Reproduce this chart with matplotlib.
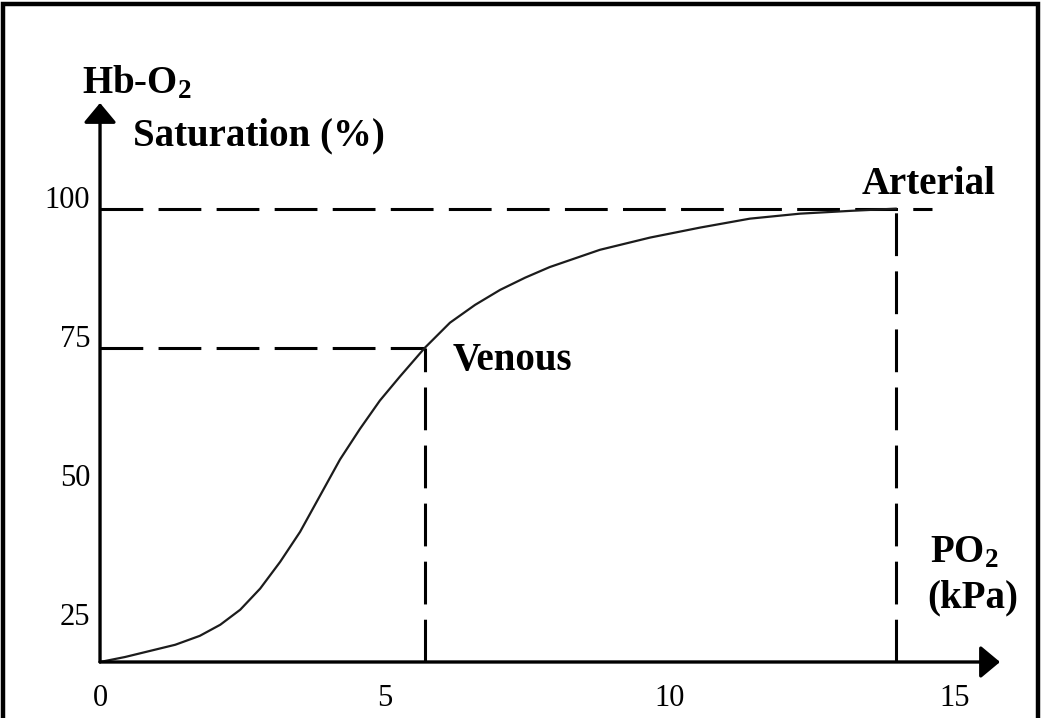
import matplotlib
matplotlib.use("Agg")
import matplotlib.pyplot as plt
from matplotlib.patches import Rectangle

# Hb-O2 dissociation curve
po2 = [0.00, 0.44, 0.88, 1.32, 1.75, 2.11, 2.46, 2.81, 3.16, 3.51, 3.86,
       4.21, 4.56, 4.91, 5.26, 5.70, 6.14, 6.58, 7.02, 7.46, 7.89, 8.77,
       9.65, 10.53, 11.40, 12.28, 13.16, 13.96]
saturation = [16.4, 17.3, 18.4, 19.5, 21.1, 23.1, 25.8, 29.6, 34.4, 39.8,
              46.3, 52.8, 58.3, 63.4, 67.7, 72.9, 77.4, 80.6, 83.3, 85.5,
              87.4, 90.5, 92.7, 94.5, 96.1, 97.0, 97.5, 97.9]

venous = (5.70, 72.9)
arterial = (13.96, 97.9)

x_ticks = [0, 5, 10, 15]
y_ticks = [25, 50, 75, 100]

plt.rcParams["font.family"] = ["Liberation Serif", "DejaVu Serif"]
plt.rcParams["mathtext.fontset"] = "custom"
plt.rcParams["mathtext.rm"] = "Liberation Serif"
plt.rcParams["mathtext.bf"] = "Liberation Serif:bold"
plt.rcParams["mathtext.default"] = "bf"

fig = plt.figure(figsize=(10.43, 7.18), dpi=100)
ax = fig.add_axes([0.0959, 0.078, 0.8629, 0.7786])

x_min, x_max = 0, 15.79
y_min, y_max = 16.4, 116.9
ax.set_xlim(x_min, x_max)
ax.set_ylim(y_min, y_max)

# the curve
ax.plot(po2, saturation, color="#1c1c1c", lw=1.6, zorder=3,
        solid_joinstyle="round")

# dashed guide lines
dash = (0, (14, 5))
ax.plot([x_min, venous[0]], [venous[1], venous[1]], color="black", lw=2.2, ls=dash)
ax.plot([venous[0], venous[0]], [y_min, venous[1]], color="black", lw=2.2, ls=dash)
ax.plot([x_min, 14.6], [arterial[1], arterial[1]], color="black", lw=2.2, ls=dash)
ax.plot([arterial[0], arterial[0]], [y_min, arterial[1]], color="black", lw=2.2, ls=dash)

# axes with arrow heads
for sp in ax.spines.values():
    sp.set_visible(False)
arrow = dict(arrowstyle="-|>,head_length=0.6,head_width=0.5", mutation_scale=20,
             lw=2.4, color="black", shrinkA=0, shrinkB=0)
ax.annotate("", xy=(1, 0), xytext=(0, 0), xycoords="axes fraction", arrowprops=arrow)
ax.annotate("", xy=(0, 1), xytext=(0, 0), xycoords="axes fraction", arrowprops=arrow)

ax.set_xticks(x_ticks)
ax.set_yticks(y_ticks)
ax.set_xticklabels([str(t) for t in x_ticks])
ax.set_yticklabels([str(t) for t in y_ticks])
ax.tick_params(axis="x", length=0, pad=16, labelsize=22)
ax.tick_params(axis="y", length=0, pad=7, labelsize=22)

lab = dict(fontsize=28, fontweight="bold", va="baseline", ha="left", clip_on=False)
ax.text(-0.32, 118.6, "Hb-O$_2$", **lab)
ax.text(0.58, 109.2, "Saturation (%)", **lab)
ax.text(6.18, 68.9, "Venous", **lab)
ax.text(13.37, 100.6, "Arterial", **lab)
ax.text(14.56, 34.3, "PO$_2$", **lab)
ax.text(14.51, 26.3, "(kPa)", **lab)

# frame around the whole picture
fig.patches.append(Rectangle((3 / 1043, -0.05), 1034.5 / 1043, 0.05 + 714 / 718,
                             transform=fig.transFigure, fill=False, lw=3.2,
                             edgecolor="black"))

fig.savefig("out.png", dpi=100)
